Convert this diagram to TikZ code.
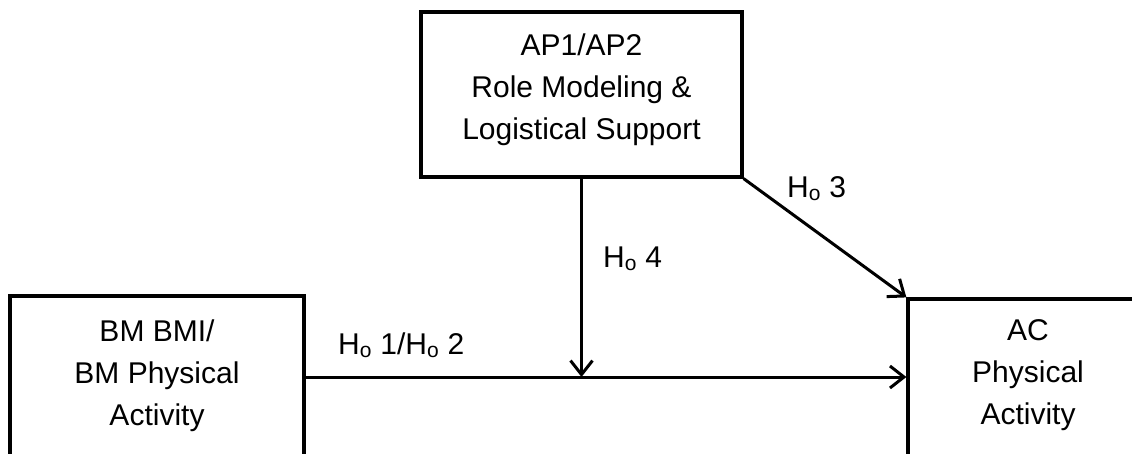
\documentclass[tikz,border=0pt]{standalone}
\usepackage{fontspec}
\setmainfont{Liberation Sans}
\usetikzlibrary{arrows.meta}

\tikzset{
  box/.style={draw, line width=3.2pt, inner sep=0pt, rectangle},
  txt/.style={align=center, inner sep=0pt, font=\fontsize{30}{42}\selectfont},
  hyp/.style={inner sep=0pt, anchor=base west, font=\fontsize{30}{36}\selectfont},
  link/.style={line width=3pt, -{Straight Barb[length=14pt,width=22pt,line width=3pt]}}
}
\newcommand{\Ho}{H\textsubscript{o}}

\begin{document}
\begin{tikzpicture}[x=1pt,y=-1pt]
  \useasboundingbox (0,0) rectangle (1132,453);
  \clip (0,0) rectangle (1132,453);

  % boxes
  \node[box, minimum width=321pt, minimum height=165pt] (apbox) at (581.5,94.5) {};
  \node[box, minimum width=294pt, minimum height=162pt] (bmbox) at (157,377) {};
  \node[box, minimum width=240pt, minimum height=162pt] (acbox) at (1028,380) {};

  % box texts
  \node[txt] (ap) at (581.5,89.5) {AP1/AP2\\Role Modeling \&\\Logistical Support};
  \node[txt] (bm) at (157,376) {BM BMI/\\BM Physical\\Activity};
  \node[txt] (ac) at (1028,375.5) {AC\\Physical\\Activity};

  % connectors
  \coordinate (join) at (apbox.south |- bmbox.east);
  \draw[link] (bmbox.east) -- (bmbox.east -| acbox.west);
  \draw[link] (apbox.south) -- (join);
  \draw[link] (apbox.south east) -- (acbox.north west);

  % hypothesis labels
  \node[hyp] (h12) at (338,354) {\Ho\ 1/\Ho\ 2};
  \node[hyp] (h4) at (603,267) {\Ho\ 4};
  \node[hyp] (h3) at (787,197) {\Ho\ 3};
\end{tikzpicture}
\end{document}
